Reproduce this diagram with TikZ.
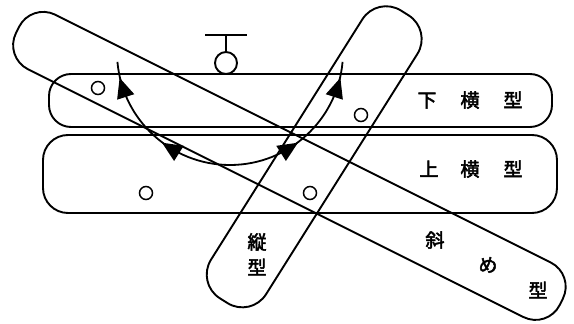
\documentclass[tikz,border=0pt]{standalone}
\usepackage{fontspec}
\newfontfamily\jpfont[FakeBold=2.5]{Noto Sans CJK JP}
\usetikzlibrary{arrows.meta, positioning, decorations.markings}
\tikzset{
  band/.style={draw, line width=1.9pt, rounded corners=#1, inner sep=0pt},
  band/.default=25pt,
  hole/.style={draw, line width=1.5pt, circle, minimum size=13pt, inner sep=0pt},
  jptext/.style={font=\jpfont\fontsize{19}{19}\selectfont, inner sep=0pt},
  swinghead/.style={fill, draw=none},
  swing/.style={line width=1.8pt, decoration={markings,
      mark=at position 0.38 with {\fill[swinghead] (9pt,0pt) -- (-11pt,9pt) -- (-11pt,-9pt) -- cycle;},
      mark=at position 0.85 with {\fill[swinghead] (9pt,0pt) -- (-11pt,9pt) -- (-11pt,-9pt) -- cycle;}},
    postaction=decorate}
}
\begin{document}
\begin{tikzpicture}[x=1pt, y=1pt]
  \useasboundingbox (0,0) rectangle (574,324);
  % bands
  \node[band=22pt, minimum width=503pt, minimum height=53pt] (shitayoko) at (300.5,223.5) {};
  \node[band=25pt, minimum width=514pt, minimum height=78pt] (uwayoko) at (300,150) {};
  \node[band=27pt, minimum width=608pt, minimum height=61pt, rotate=-26.57] (naname) at (289.4,158.1) {};
  \node[band=28pt, minimum width=340pt, minimum height=65pt, rotate=57.8] (tate) at (314.2,167.2) {};
  % holes
  \node[hole] (h1) at (98,236) {};
  \node[hole] (h2) at (361,209) {};
  \node[hole] (h3) at (146,131) {};
  \node[hole] (h4) at (310,131) {};
  % pivot
  \node[draw, line width=1.9pt, circle, minimum size=22pt, inner sep=0pt] (piv) at (226,261) {};
  \coordinate (pivtop) at (226,289);
  \draw[line width=1.9pt] (piv.north) -- (pivtop);
  \draw[line width=1.9pt] ([xshift=-21pt]pivtop) -- ([xshift=21pt]pivtop);
  % swing arcs
  \coordinate (pv) at (230,272);
  \draw[swing] (pv) ++(270:113pt) arc[start angle=270, end angle=185, radius=113pt];
  \draw[swing] (pv) ++(270:113pt) arc[start angle=270, end angle=355, radius=113pt];
  % labels
  \node[jptext] (lshita) at (470,224) {下\hspace{24pt}横\hspace{24pt}型};
  \node[jptext] (luwa) at (471,155) {上\hspace{22pt}横\hspace{24pt}型};
  \node[jptext] (ln1) at (435,84) {斜};
  \node[jptext] (ln2) at (488,59) {め};
  \node[jptext] (ln3) at (538,34) {型};
  \node[jptext] (lt1) at (257,82) {縦};
  \node[jptext] (lt2) at (257,57) {型};
\end{tikzpicture}
\end{document}
